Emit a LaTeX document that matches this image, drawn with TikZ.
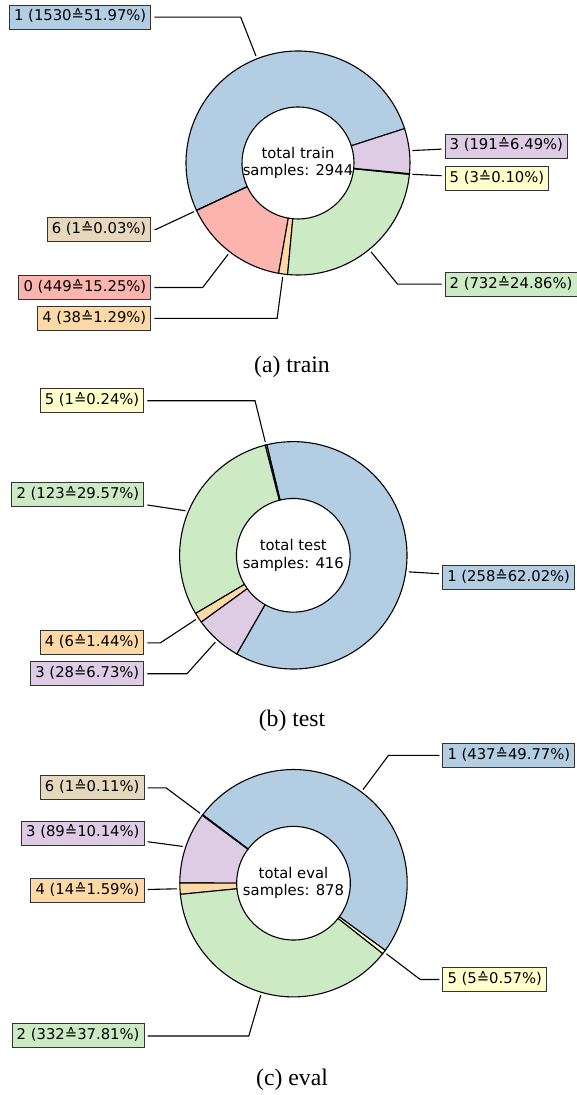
\documentclass[tikz,border=0pt]{standalone}
\usepackage{fontspec}
\setmainfont{DejaVu Sans}
\newfontfamily\capfont{Liberation Serif}
\usepackage{tikz}
\usetikzlibrary{calc}
\definecolor{pzero}{HTML}{FBB4AE}
\definecolor{pone}{HTML}{B3CDE3}
\definecolor{ptwo}{HTML}{CCEBC5}
\definecolor{pthree}{HTML}{DECBE4}
\definecolor{pfour}{HTML}{FED9A6}
\definecolor{pfive}{HTML}{FFFFCC}
\definecolor{psix}{HTML}{E5D8BD}

\begin{document}
\begin{tikzpicture}[x=1pt, y=1pt,
    wedge/.style={draw=black, line width=1.1pt},
    lbl/.style={draw=black!80, line width=1pt, font=\fontsize{14.8}{17.4}\selectfont,
        inner xsep=4.6pt, inner ysep=4.6pt, text height=11.3pt, text depth=3.5pt},
    conn/.style={draw=black, line width=1.1pt, shorten <=3pt},
    ctr/.style={align=center, font=\fontsize{14.8}{17.4}\selectfont},
    captxt/.style={anchor=base, font=\capfont\fontsize{23.7}{28}\selectfont}]
                \useasboundingbox (0,0) rectangle (577,-1095);

                % 1. train donut
                \coordinate (ca) at (298,-163);
                \foreach \a/\b/\col in {17.9/204.992/pone, 204.992/205.114/psix, 205.114/260.019/pzero,
                        260.019/264.666/pfour, 264.666/354.177/ptwo, 354.177/354.544/pfive, 354.544/377.9/pthree}
                    \draw[wedge, fill=\col] ($(ca)+(\a:112)$) arc[start angle=\a, end angle=\b, radius=112]
                        -- ($(ca)+(\b:56)$) arc[start angle=\b, end angle=\a, radius=56] -- cycle;
                \node[ctr] (ta) at (ca) {total train\\samples: 2944};
                \foreach \n/\m in {1/111.446, 6/205.053, 0/232.567, 4/262.343, 2/309.42, 5/354.36, 3/6.22} {
                    \coordinate (ka\n) at ($(ca)+(\m:156.8)$);
                    \coordinate (pa\n) at ($(ca)+(\m:115)$);
                }
                \coordinate (lefta) at (151.4,-163);
                \coordinate (righta) at (444.6,-163);
                \node[lbl, fill=pone, anchor=east] (la1) at (ka1 -| lefta) {1 (1530≙51.97\%)};
                \node[lbl, fill=psix, anchor=east] (la6) at (ka6 -| lefta) {6 (1≙0.03\%)};
                \node[lbl, fill=pzero, anchor=east] (la0) at (ka0 -| lefta) {0 (449≙15.25\%)};
                \node[lbl, fill=pfour, anchor=east] (la4) at (ka4 -| lefta) {4 (38≙1.29\%)};
                \node[lbl, fill=ptwo, anchor=west] (la2) at (ka2 -| righta) {2 (732≙24.86\%)};
                \node[lbl, fill=pfive, anchor=west] (la5) at (ka5 -| righta) {5 (3≙0.10\%)};
                \node[lbl, fill=pthree, anchor=west] (la3) at (ka3 -| righta) {3 (191≙6.49\%)};
                \draw[conn] (la1) -- (ka1) -- (pa1);
                \draw[conn] (la6) -- (ka6) -- (pa6);
                \draw[conn] (la0) -- (ka0) -- (pa0);
                \draw[conn] (la4) -- (ka4) -- (pa4);
                \draw[conn] (la2) -- (ka2) -- (pa2);
                \draw[conn] (la5) -- (pa5);
                \draw[conn] (la3) -- (pa3);
                \node[captxt] (capa) at (292,-372) {(a) train};

                % 2. test donut
                \coordinate (cb) at (293.3,-555.3);
                \foreach \a/\b/\col in {-119.8/103.469/pone, 103.469/104.334/pfive, 104.334/210.776/ptwo,
                        210.776/215.968/pfour, 215.968/240.2/pthree}
                    \draw[wedge, fill=\col] ($(cb)+(\a:113.7)$) arc[start angle=\a, end angle=\b, radius=113.7]
                        -- ($(cb)+(\b:56.85)$) arc[start angle=\b, end angle=\a, radius=56.85] -- cycle;
                \node[ctr] (tb) at (cb) {total test\\samples: 416};
                \foreach \n/\m in {1/-8.166, 5/103.902, 2/157.555, 4/213.372, 3/228.084} {
                    \coordinate (kb\n) at ($(cb)+(\m:159.18)$);
                    \coordinate (pb\n) at ($(cb)+(\m:116.7)$);
                }
                \coordinate (leftb) at (144.4,-555.3);
                \coordinate (rightb) at (442.2,-555.3);
                \node[lbl, fill=pone, anchor=west] (lb1) at (kb1 -| rightb) {1 (258≙62.02\%)};
                \node[lbl, fill=pfive, anchor=east] (lb5) at (kb5 -| leftb) {5 (1≙0.24\%)};
                \node[lbl, fill=ptwo, anchor=east] (lb2) at (kb2 -| leftb) {2 (123≙29.57\%)};
                \node[lbl, fill=pfour, anchor=east] (lb4) at (kb4 -| leftb) {4 (6≙1.44\%)};
                \node[lbl, fill=pthree, anchor=east] (lb3) at (kb3 -| leftb) {3 (28≙6.73\%)};
                \draw[conn] (lb1) -- (pb1);
                \draw[conn] (lb5) -- (kb5) -- (pb5);
                \draw[conn] (lb2) -- (pb2);
                \draw[conn] (lb4) -- (kb4) -- (pb4);
                \draw[conn] (lb3) -- (kb3) -- (pb3);
                \node[captxt] (capb) at (292,-726) {(b) test};

                % 3. eval donut
                \coordinate (cc) at (293.5,-883.2);
                \foreach \a/\b/\col in {-36.2/142.98/pone, 142.98/143.39/psix, 143.39/179.882/pthree,
                        179.882/185.622/pfour, 185.622/321.75/ptwo, 321.75/323.8/pfive}
                    \draw[wedge, fill=\col] ($(cc)+(\a:113.7)$) arc[start angle=\a, end angle=\b, radius=113.7]
                        -- ($(cc)+(\b:56.85)$) arc[start angle=\b, end angle=\a, radius=56.85] -- cycle;
                \node[ctr] (tc) at (cc) {total eval\\samples: 878};
                \foreach \n/\m in {1/53.39, 6/143.185, 3/161.636, 4/182.752, 2/253.686, 5/322.775} {
                    \coordinate (kc\n) at ($(cc)+(\m:159.18)$);
                    \coordinate (pc\n) at ($(cc)+(\m:116.7)$);
                }
                \coordinate (leftc) at (144.6,-883.2);
                \coordinate (rightc) at (442.4,-883.2);
                \node[lbl, fill=pone, anchor=west] (lc1) at (kc1 -| rightc) {1 (437≙49.77\%)};
                \node[lbl, fill=psix, anchor=east] (lc6) at (kc6 -| leftc) {6 (1≙0.11\%)};
                \node[lbl, fill=pthree, anchor=east] (lc3) at (kc3 -| leftc) {3 (89≙10.14\%)};
                \node[lbl, fill=pfour, anchor=east] (lc4) at (kc4 -| leftc) {4 (14≙1.59\%)};
                \node[lbl, fill=ptwo, anchor=east] (lc2) at (kc2 -| leftc) {2 (332≙37.81\%)};
                \node[lbl, fill=pfive, anchor=west] (lc5) at (kc5 -| rightc) {5 (5≙0.57\%)};
                \draw[conn] (lc1) -- (kc1) -- (pc1);
                \draw[conn] (lc6) -- (kc6) -- (pc6);
                \draw[conn] (lc3) -- (pc3);
                \draw[conn] (lc4) -- (pc4);
                \draw[conn] (lc2) -- (kc2) -- (pc2);
                \draw[conn] (lc5) -- (kc5) -- (pc5);
                \node[captxt] (capc) at (292,-1085) {(c) eval};
            \end{tikzpicture}
\end{document}
